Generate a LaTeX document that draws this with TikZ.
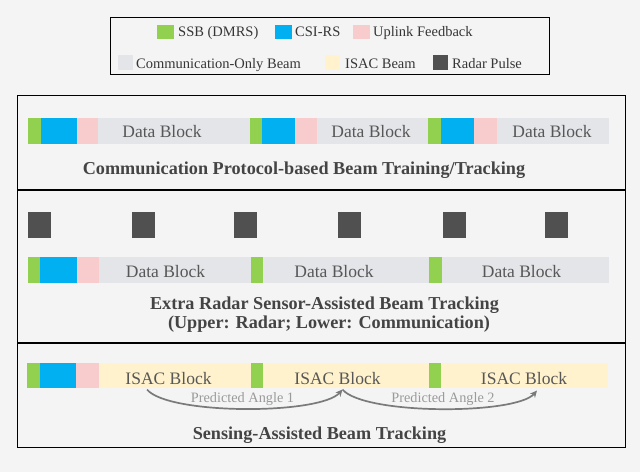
\documentclass[tikz,border=0pt]{standalone}
\usepackage{fontspec}
\setmainfont{Liberation Serif}
\usetikzlibrary{arrows.meta}
\definecolor{bg}{HTML}{F4F4F4}
\definecolor{ssb}{HTML}{92D050}
\definecolor{csi}{HTML}{00B0F0}
\definecolor{upl}{HTML}{F8CBCD}
\definecolor{com}{HTML}{E4E5E9}
\definecolor{isac}{HTML}{FFF2CC}
\definecolor{radar}{HTML}{505050}
\definecolor{txt}{HTML}{444444}
\definecolor{arcc}{HTML}{7A7A7A}
\definecolor{arct}{HTML}{9A9A9A}
\newcommand\seg[6]{\node[seg,fill=#2,minimum width={#4pt-#3pt},minimum height={#6pt-#5pt}] (#1) at (#3,#5) {};}
\begin{document}
\begin{tikzpicture}[x=1pt,y=-1pt,
  seg/.style={inner sep=0pt,outer sep=0pt,anchor=north west,draw=none},
  lgd/.style={anchor=base west,inner sep=0pt,text=txt!80!black,font=\fontsize{14.5}{16}\selectfont},
  blab/.style={anchor=base,inner sep=0pt,text=txt!90,font=\fontsize{17.5}{20}\selectfont},
  ttl/.style={anchor=base,inner sep=0pt,text=txt,font=\bfseries\fontsize{18.2}{20}\selectfont},
  plab/.style={anchor=base,inner sep=0pt,text=arct,font=\fontsize{14.3}{16}\selectfont},
  frame/.style={draw=black,line width=1.3pt},
  parc/.style={draw=arcc,line width=1.7pt,-{Stealth[length=7pt,width=6.5pt]}}]
\fill[bg] (0,0) rectangle (640,472);
\useasboundingbox (0,0) rectangle (640,472);
% legend
\node[frame,inner sep=0pt,anchor=north west,minimum width=439pt,minimum height=57pt] (legend) at (110,17) {};
\seg{ls1}{ssb}{157}{174}{24.5}{38.5}
\node[lgd] (lt1) at (178,36) {SSB (DMRS)};
\seg{ls2}{csi}{275}{292}{24.5}{38.5}
\node[lgd] (lt2) at (295,36) {CSI-RS};
\seg{ls3}{upl}{353}{370}{24.5}{38.5}
\node[lgd] (lt3) at (373,36) {Uplink Feedback};
\seg{ls4}{com}{118}{133}{55}{70}
\node[lgd] (lt4) at (136,68) {Communication-Only Beam};
\seg{ls5}{isac}{325}{340}{55}{70}
\node[lgd] (lt5) at (345,68) {ISAC Beam};
\seg{ls6}{radar}{433}{448}{55}{70}
\node[lgd] (lt6) at (452,68) {Radar Pulse};
% main frame
\node[frame,inner sep=0pt,anchor=north west,minimum width=608pt,minimum height=352pt] (main) at (17,95) {};
\coordinate (d1l) at (17,190); \coordinate (d1r) at (625,190);
\coordinate (d2l) at (17,343); \coordinate (d2r) at (625,343);
\draw[frame] (d1l) -- (d1r);
\draw[frame] (d2l) -- (d2r);
% row 1
\seg{a1}{ssb}{28}{40.7}{117.5}{144}
\seg{a2}{csi}{40.7}{76.7}{117.5}{144}
\seg{a3}{upl}{76.7}{98}{117.5}{144}
\seg{a4}{com}{98}{250}{117.5}{144}
\seg{a5}{ssb}{250}{262}{117.5}{144}
\seg{a6}{csi}{262}{295}{117.5}{144}
\seg{a7}{upl}{295}{316.7}{117.5}{144}
\seg{a8}{com}{316.7}{428.3}{117.5}{144}
\seg{a9}{ssb}{428.3}{441}{117.5}{144}
\seg{a10}{csi}{441}{474.3}{117.5}{144}
\seg{a11}{upl}{474.3}{496.7}{117.5}{144}
\seg{a12}{com}{496.7}{609}{117.5}{144}
\node[blab] (al1) at (162,137.7) {Data Block};
\node[blab] (al2) at (371,137.7) {Data Block};
\node[blab] (al3) at (552,137.7) {Data Block};
\node[ttl] (t1) at (304,174.3) {Communication Protocol-based Beam Training/Tracking};
% row 2 radar pulses
\seg{r1}{radar}{28}{50.7}{211.7}{237.7}
\seg{r2}{radar}{132.3}{155}{211.7}{237.7}
\seg{r3}{radar}{234.3}{257}{211.7}{237.7}
\seg{r4}{radar}{338.3}{361}{211.7}{237.7}
\seg{r5}{radar}{442.7}{465.7}{211.7}{237.7}
\seg{r6}{radar}{545}{567.7}{211.7}{237.7}
% row 2 comm
\seg{b1}{ssb}{28}{40}{256.7}{282.7}
\seg{b2}{csi}{40}{76.7}{256.7}{282.7}
\seg{b3}{upl}{76.7}{99}{256.7}{282.7}
\seg{b4}{com}{99}{251}{256.7}{282.7}
\seg{b5}{ssb}{251}{263.3}{256.7}{282.7}
\seg{b6}{com}{263.3}{429.3}{256.7}{282.7}
\seg{b7}{ssb}{429.3}{441.7}{256.7}{282.7}
\seg{b8}{com}{441.7}{609}{256.7}{282.7}
\node[blab] (bl1) at (165.5,277) {Data Block};
\node[blab] (bl2) at (334,277) {Data Block};
\node[blab] (bl3) at (521.5,277) {Data Block};
\node[ttl] (t2a) at (324.5,309) {Extra Radar Sensor-Assisted Beam Tracking};
\node[ttl] (t2b) at (329,328.5) {(Upper: Radar; Lower: Communication)};
% row 3
\seg{c1}{ssb}{27}{40}{362.7}{388.3}
\seg{c2}{csi}{40}{76}{362.7}{388.3}
\seg{c3}{upl}{76}{99}{362.7}{388.3}
\seg{c4}{isac}{99}{251}{362.7}{388.3}
\seg{c5}{ssb}{251}{263}{362.7}{388.3}
\seg{c6}{isac}{263}{428.7}{362.7}{388.3}
\seg{c7}{ssb}{428.7}{441}{362.7}{388.3}
\seg{c8}{isac}{441}{608}{362.7}{388.3}
\node[blab] (cl1) at (168.5,384) {ISAC Block};
\node[blab] (cl2) at (337.5,384) {ISAC Block};
\node[blab] (cl3) at (524,384) {ISAC Block};
\coordinate (p0) at (147,389.5);
\coordinate (p1) at (342.5,389.5);
\coordinate (p2) at (537,390.5);
\draw[parc] (p0) .. controls (168,415) and (320,415) .. (p1);
\draw[parc] (p1) .. controls (364,415) and (516,415) .. (p2);
\node[plab] (pa1) at (242.5,402.7) {Predicted Angle 1};
\node[plab] (pa2) at (443,402.7) {Predicted Angle 2};
\node[ttl] (t3) at (319.5,439) {Sensing-Assisted Beam Tracking};
\end{tikzpicture}
\end{document}
